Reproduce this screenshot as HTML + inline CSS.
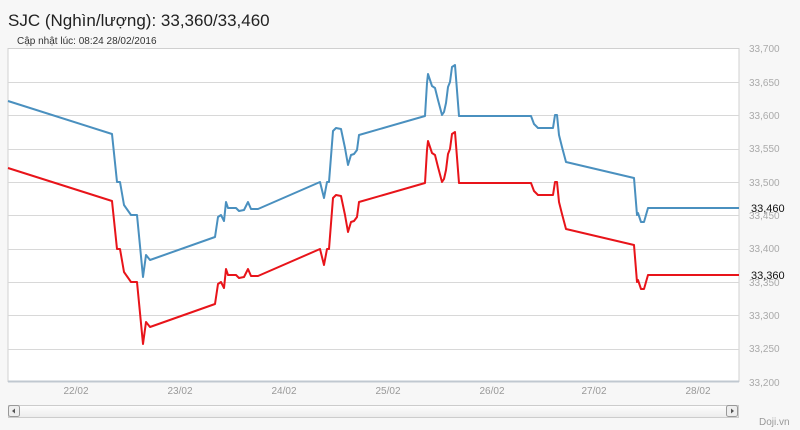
<!DOCTYPE html>
<html><head><meta charset="utf-8"><style>
html,body{margin:0;padding:0;background:#f7f7f7;width:800px;height:430px;overflow:hidden;font-family:"Liberation Sans","DejaVu Sans",sans-serif}
</style></head><body>
<svg width="800" height="430" xmlns="http://www.w3.org/2000/svg" font-family="Liberation Sans, DejaVu Sans, sans-serif">
<rect x="0" y="0" width="800" height="430" fill="#f7f7f7"/>
<text x="8" y="26" font-size="17" fill="#222">SJC (Nghìn/lượng): 33,360/33,460</text>
<text x="17" y="44" font-size="10" fill="#333">Cập nhật lúc: 08:24 28/02/2016</text>
<rect x="8" y="48.5" width="731" height="333" fill="#fff" stroke="#d0d0d0"/>
<g stroke="#d8d8d8" stroke-width="1">
<line x1="8" x2="739" y1="82.5" y2="82.5"/><line x1="8" x2="739" y1="115.5" y2="115.5"/>
<line x1="8" x2="739" y1="149.5" y2="149.5"/><line x1="8" x2="739" y1="182.5" y2="182.5"/>
<line x1="8" x2="739" y1="215.5" y2="215.5"/><line x1="8" x2="739" y1="249.5" y2="249.5"/>
<line x1="8" x2="739" y1="282.5" y2="282.5"/><line x1="8" x2="739" y1="315.5" y2="315.5"/>
<line x1="8" x2="739" y1="349.5" y2="349.5"/>
</g>
<line x1="8" x2="739" y1="381.5" y2="381.5" stroke="#c0c8d0" stroke-width="2"/>
<g font-size="10" fill="#aaa">
<text x="749" y="52">33,700</text><text x="749" y="86">33,650</text><text x="749" y="119">33,600</text>
<text x="749" y="152">33,550</text><text x="749" y="186">33,500</text><text x="749" y="219">33,450</text>
<text x="749" y="252">33,400</text><text x="749" y="286">33,350</text><text x="749" y="319">33,300</text>
<text x="749" y="352">33,250</text><text x="749" y="386">33,200</text>
</g>
<g font-size="10" fill="#999" text-anchor="middle">
<text x="76" y="394">22/02</text><text x="180" y="394">23/02</text><text x="284" y="394">24/02</text>
<text x="388" y="394">25/02</text><text x="492" y="394">26/02</text><text x="594" y="394">27/02</text><text x="698" y="394">28/02</text>
</g>
<g id="ln" fill="none" stroke-width="2" stroke-linejoin="round">
<polyline id="b" stroke="#4a90bf" points="8,101 112,134 117,182 120,182 124,205 131,215 137,215 140,246 143,277 146,255 150,260 215,237 218,217 221,215 224,221 226,202 228,208 236,208 239,211 244,210 248,202 251,209 258,209 320,182 324,198 327,182 329,182 333,131 336,128 341,129 345,148 348,165 351,155 354,154 357,150 359,135 425,116 427,83 428,74 432,86 435,88 438,100 442,115 444,112 446,103 448,87 450,82 452,67 455,65 459,116 531,116 534,124 538,128 553,128 555,115 557,115 559,135 562,147 566,162 634,178 637,215 638,213 641,222 644,222 648,208 739,208"/>
<polyline stroke="#e8141a" transform="translate(0,67)" points="8,101 112,134 117,182 120,182 124,205 131,215 137,215 140,246 143,277 146,255 150,260 215,237 218,217 221,215 224,221 226,202 228,208 236,208 239,211 244,210 248,202 251,209 258,209 320,182 324,198 327,182 329,182 333,131 336,128 341,129 345,148 348,165 351,155 354,154 357,150 359,135 425,116 427,83 428,74 432,86 435,88 438,100 442,115 444,112 446,103 448,87 450,82 452,67 455,65 459,116 531,116 534,124 538,128 553,128 555,115 557,115 559,135 562,147 566,162 634,178 637,215 638,213 641,222 644,222 648,208 739,208"/>
</g>
<g font-size="11" fill="#111">
<text x="751" y="212">33,460</text><text x="751" y="279">33,360</text>
</g>
<defs><linearGradient id="sg" x1="0" y1="0" x2="0" y2="1"><stop offset="0" stop-color="#fdfdfd"/><stop offset="1" stop-color="#ececec"/></linearGradient></defs>
<rect x="8.5" y="405.5" width="730" height="12" fill="url(#sg)" stroke="#ccc"/>
<rect x="8.5" y="405.5" width="11" height="11" rx="2" fill="#eee" stroke="#999"/>
<path d="M12 411 L15 408.5 L15 413.5 Z" fill="#555"/>
<rect x="726.5" y="405.5" width="11" height="11" rx="2" fill="#eee" stroke="#999"/>
<path d="M134 0" fill="none"/>
<path d="M734 411 L731 408.5 L731 413.5 Z" fill="#555"/>
<text x="759" y="425" font-size="10" fill="#999">Doji.vn</text>
</svg>
</body></html>
